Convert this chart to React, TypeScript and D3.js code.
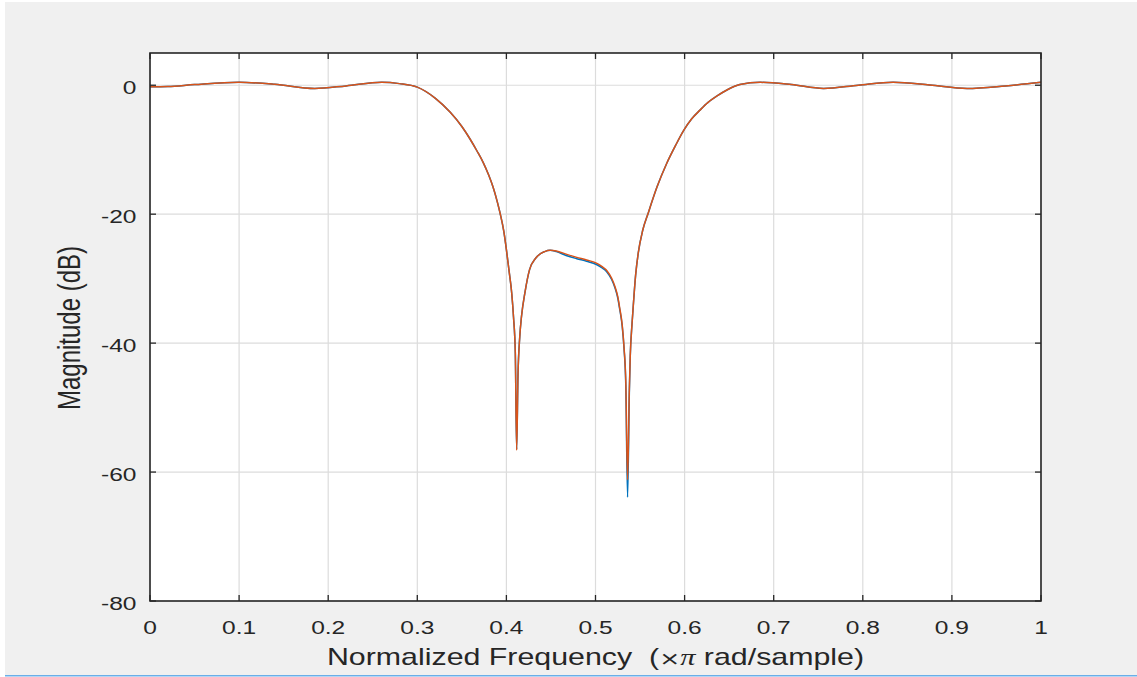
import React from "react";
import * as d3 from "d3";

// Normalized frequency (× π rad/sample)
const freq: number[] = [
  0, 0.02, 0.05, 0.1, 0.14, 0.185, 0.22, 0.26, 0.28, 0.3, 0.32, 0.337, 0.35, 0.359,
  0.367, 0.374, 0.38, 0.385, 0.39, 0.393, 0.397, 0.4, 0.403, 0.406, 0.408, 0.41,
  0.4115, 0.413, 0.415, 0.417, 0.421, 0.426, 0.433, 0.443, 0.449, 0.456, 0.467,
  0.479, 0.49, 0.501, 0.507, 0.513, 0.518, 0.522, 0.525, 0.527, 0.53, 0.532, 0.534,
  0.536, 0.538, 0.539, 0.541, 0.542, 0.545, 0.548, 0.553, 0.559, 0.569, 0.58, 0.59,
  0.599, 0.608, 0.617, 0.626, 0.636, 0.648, 0.662, 0.685, 0.72, 0.756, 0.795, 0.834,
  0.875, 0.917, 0.96, 1.0,
];

// Magnitude (dB) – reference filter (blue)
const magBlue: number[] = [
  -0.25, -0.2, 0.1, 0.45, 0.15, -0.5, -0.1, 0.45, 0.25, -0.3, -2.0, -4.2, -6.4, -8.3,
  -10.2, -12.0, -13.9, -15.8, -18.2, -19.9, -22.6, -25.5, -28.8, -32.3, -36, -41.5,
  -56.5, -45, -39, -35.8, -32, -28.6, -26.8, -25.8, -25.6, -25.8, -26.4, -26.9, -27.3,
  -27.8, -28.3, -29.0, -30.1, -31.5, -33.0, -34.6, -37.4, -40.8, -46.5, -63.9, -47.5,
  -42, -37, -35, -29.5, -26, -22.5, -19.9, -15.8, -12.1, -9.3, -7.0, -5.2, -3.9, -2.7,
  -1.7, -0.7, 0.1, 0.45, 0.1, -0.5, 0.0, 0.45, 0.05, -0.5, -0.1, 0.45,
];

// Magnitude (dB) – quantized filter (orange)
const magOrange: number[] = [
  -0.25, -0.2, 0.1, 0.45, 0.15, -0.5, -0.1, 0.45, 0.25, -0.3, -2.0, -4.2, -6.4, -8.3,
  -10.2, -12.0, -13.9, -15.8, -18.2, -19.9, -22.6, -25.5, -28.8, -32.3, -36, -41.5,
  -56.6, -45, -39, -35.8, -32, -28.6, -26.8, -25.8, -25.6, -25.7, -26.2, -26.7, -27.1,
  -27.6, -28.1, -28.8, -29.9, -31.3, -32.8, -34.4, -37.2, -40.6, -46, -61.2, -47, -42,
  -37, -35, -29.5, -26, -22.5, -19.9, -15.8, -12.1, -9.3, -7.0, -5.2, -3.9, -2.7, -1.7,
  -0.7, 0.1, 0.45, 0.1, -0.5, 0.0, 0.45, 0.05, -0.5, -0.1, 0.45,
];

const xTicks: number[] = [0, 0.1, 0.2, 0.3, 0.4, 0.5, 0.6, 0.7, 0.8, 0.9, 1];
const yTicks: number[] = [-80, -60, -40, -20, 0];

const W = 1137;
const H = 677;
const L = 150;
const R = 1041;
const T = 53;
const B = 601;
const TXT = "#262626";
const FONT = "'Liberation Sans', Arial, Helvetica, sans-serif";
const SX = 1.32; // horizontal stretch of the reference screenshot

export default function App() {
  const x = d3.scaleLinear().domain([0, 1]).range([L, R]);
  const y = d3.scaleLinear().domain([-80, 5]).range([B, T]);
  const line = d3
    .line<number>()
    .x((_, i) => x(freq[i]))
    .y((d) => y(d))
    .curve(d3.curveMonotoneX);

  const tickLen = 6;

  return (
    <div style={{ position: "fixed", left: 0, top: 0 }}>
      <svg width={W} height={H} style={{ display: "block" }}>
        <rect x={0} y={0} width={W} height={H} fill="#ffffff" />
        <rect x={5} y={2} width={W - 5} height={673} fill="#f0f0f0" />
        <rect x={5} y={675} width={W - 5} height={1.5} fill="#6aaee8" />
        <rect x={L} y={T} width={R - L} height={B - T} fill="#ffffff" />
        {/* grid */}
        {xTicks.map((t) => (
          <line key={"gx" + t} x1={x(t)} x2={x(t)} y1={T} y2={B} stroke="#dcdcdc" strokeWidth={1.2} />
        ))}
        {yTicks.map((t) => (
          <line key={"gy" + t} x1={L} x2={R} y1={y(t)} y2={y(t)} stroke="#dcdcdc" strokeWidth={1.2} />
        ))}
        {/* curves */}
        <path d={line(magBlue) || ""} fill="none" stroke="#0072bd" strokeWidth={1.5} strokeLinejoin="round" />
        <path d={line(magOrange) || ""} fill="none" stroke="#d95319" strokeWidth={1.5} strokeLinejoin="round" />
        {/* ticks */}
        {xTicks.map((t) => (
          <g key={"tx" + t}>
            <line x1={x(t)} x2={x(t)} y1={B} y2={B - tickLen} stroke={TXT} strokeWidth={1.3} />
            <line x1={x(t)} x2={x(t)} y1={T} y2={T + tickLen} stroke={TXT} strokeWidth={1.3} />
            <text
              transform={`translate(${x(t)}, 634) scale(${SX}, 1)`}
              textAnchor="middle"
              fontFamily={FONT}
              fontSize={18.6}
              fill={TXT}
            >
              {String(t)}
            </text>
          </g>
        ))}
        {yTicks.map((t) => (
          <g key={"ty" + t}>
            <line x1={L} x2={L + tickLen} y1={y(t)} y2={y(t)} stroke={TXT} strokeWidth={1.3} />
            <line x1={R} x2={R - tickLen} y1={y(t)} y2={y(t)} stroke={TXT} strokeWidth={1.3} />
            <text
              transform={`translate(136.5, ${y(t) + 8.5}) scale(${SX}, 1)`}
              textAnchor="end"
              fontFamily={FONT}
              fontSize={18.6}
              fill={TXT}
            >
              {String(t)}
            </text>
          </g>
        ))}
        {/* box */}
        <rect x={L} y={T} width={R - L} height={B - T} fill="none" stroke={TXT} strokeWidth={1.6} />
        {/* labels */}
        <text
          transform={`translate(${(L + R) / 2}, 665) scale(${SX}, 1)`}
          textAnchor="middle"
          fontFamily={FONT}
          fontSize={23}
          fill={TXT}
          xmlSpace="preserve"
        >
          {"Normalized Frequency  ("}
          <tspan fontFamily="'DejaVu Serif', 'Liberation Serif', serif" fontSize={19}>{"×"}</tspan>
          <tspan fontFamily="'Liberation Serif', 'DejaVu Serif', serif" fontStyle="italic">{"π"}</tspan>
          {" rad/sample)"}
        </text>
        <text
          transform={`translate(80, ${(T + B) / 2 + 1}) scale(${SX}, 1) rotate(-90)`}
          textAnchor="middle"
          fontFamily={FONT}
          fontSize={24}
          fill={TXT}
        >
          Magnitude (dB)
        </text>
      </svg>
    </div>
  );
}
